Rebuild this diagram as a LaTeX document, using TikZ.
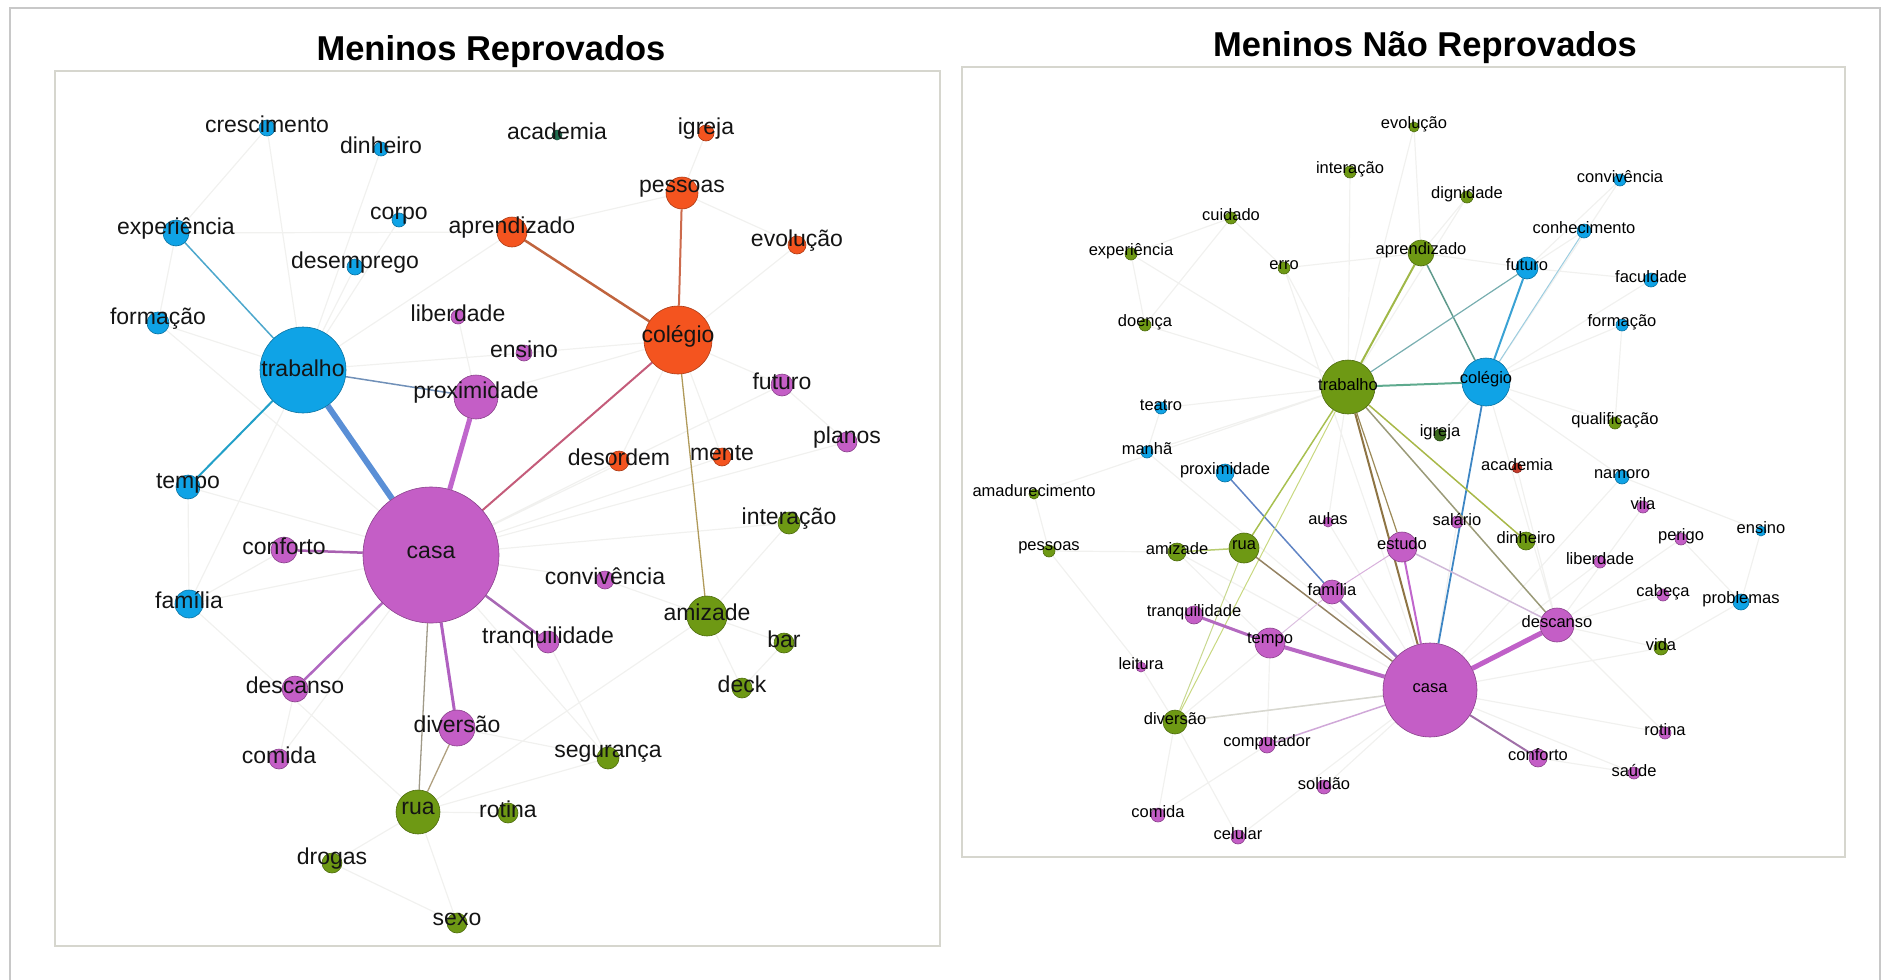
\documentclass[tikz,border=0pt]{standalone}
\usepackage{fontspec}
\setmainfont{Liberation Sans}
\usetikzlibrary{backgrounds}
\definecolor{NetBlue}{HTML}{0FA3E6}
\definecolor{NetOrange}{HTML}{F4541F}
\definecolor{NetPurple}{HTML}{C45EC6}
\definecolor{NetGreen}{HTML}{6E9914}
\definecolor{NetTeal}{HTML}{1E6E50}
\definecolor{NetRed}{HTML}{C43A2A}
\definecolor{NetMoss}{HTML}{3C6B1E}
\definecolor{EdgeFaint}{HTML}{F1F1EF}
\definecolor{FrameGray}{HTML}{D6D6CE}
\definecolor{OuterGray}{HTML}{C8C8C8}

\begin{document}
\begin{tikzpicture}[x=1pt, y=-1pt,
    wnode/.style={circle, inner sep=0pt, line width=0.6pt, fill=#1, draw=#1!70!black},
    ltext/.style={font=\fontsize{23}{27}\selectfont, text=black!92, inner sep=0pt, yshift=4pt},
    rtext/.style={font=\fontsize{16.5}{19}\selectfont, text=black, inner sep=0pt, yshift=3pt},
    faint/.style={EdgeFaint, line width=1.2pt},
    ttl/.style={font=\fontsize{34.5}{40}\selectfont\bfseries, inner sep=0pt}]
    \useasboundingbox (0,0) rectangle (1883,980);

    % Outer border and frames
    \draw[OuterGray, line width=1.5pt] (10,985) -- (10,8) -- (1880,8) -- (1880,985);
    \draw[FrameGray, line width=1.2pt] (55,71) rectangle (940,946);
    \draw[FrameGray, line width=1.2pt] (962,67) rectangle (1845,857);

    % Titles
    \node[ttl] (ttlL) at (491,52) {Meninos Reprovados};
    \node[ttl] (ttlR) at (1425,48) {Meninos Não Reprovados};

    % Left graph
    \node[wnode=NetBlue, minimum size=16pt, label={[ltext]center:crescimento}] (Lcrescimento) at (267,128) {};
    \node[wnode=NetBlue, minimum size=14pt, label={[ltext]center:dinheiro}] (Ldinheiro) at (381,149) {};
    \node[wnode=NetBlue, minimum size=26pt, label={[ltext]center:experiência}] (Lexperiencia) at (176,233) {};
    \node[wnode=NetBlue, minimum size=14pt, label={[ltext]center:corpo}] (Lcorpo) at (399,220) {};
    \node[wnode=NetBlue, minimum size=16pt, label={[ltext]center:desemprego}] (Ldesemprego) at (355,267) {};
    \node[wnode=NetBlue, minimum size=22pt, label={[ltext]center:formação}] (Lformacao) at (158,323) {};
    \node[wnode=NetBlue, minimum size=86pt, label={[ltext, yshift=-2pt]center:trabalho}] (Ltrabalho) at (303,370) {};
    \node[wnode=NetBlue, minimum size=24pt, label={[ltext]center:tempo}] (Ltempo) at (188,487) {};
    \node[wnode=NetBlue, minimum size=28pt, label={[ltext]center:família}] (Lfamilia) at (189,604) {};
    \node[wnode=NetPurple, minimum size=14pt, label={[ltext]center:liberdade}] (Lliberdade) at (458,317) {};
    \node[wnode=NetPurple, minimum size=16pt, label={[ltext]center:ensino}] (Lensino) at (524,353) {};
    \node[wnode=NetPurple, minimum size=44pt, label={[ltext]center:proximidade}] (Lproximidade) at (476,397) {};
    \node[wnode=NetTeal, minimum size=10pt, label={[ltext]center:academia}] (Lacademia) at (557,135) {};
    \node[wnode=NetOrange, minimum size=16pt, label={[ltext]center:igreja}] (Ligreja) at (706,133) {};
    \node[wnode=NetOrange, minimum size=32pt, label={[ltext]center:pessoas}] (Lpessoas) at (682,193) {};
    \node[wnode=NetOrange, minimum size=30pt, label={[ltext]center:aprendizado}] (Laprendizado) at (512,232) {};
    \node[wnode=NetOrange, minimum size=18pt, label={[ltext]center:evolução}] (Levolucao) at (797,245) {};
    \node[wnode=NetOrange, minimum size=68pt, label={[ltext]center:colégio}] (Lcolegio) at (678,340) {};
    \node[wnode=NetPurple, minimum size=22pt, label={[ltext]center:futuro}] (Lfuturo) at (782,385) {};
    \node[wnode=NetPurple, minimum size=20pt, label={[ltext]center:planos}] (Lplanos) at (847,442) {};
    \node[wnode=NetOrange, minimum size=20pt, label={[ltext]center:desordem}] (Ldesordem) at (619,461) {};
    \node[wnode=NetOrange, minimum size=18pt, label={[ltext]center:mente}] (Lmente) at (722,457) {};
    \node[wnode=NetPurple, minimum size=136pt, label={[ltext, yshift=-1pt]center:casa}] (Lcasa) at (431,555) {};
    \node[wnode=NetPurple, minimum size=26pt, label={[ltext]center:conforto}] (Lconforto) at (284,550) {};
    \node[wnode=NetPurple, minimum size=26pt, label={[ltext]center:descanso}] (Ldescanso) at (295,689) {};
    \node[wnode=NetPurple, minimum size=36pt, label={[ltext]center:diversão}] (Ldiversao) at (457,728) {};
    \node[wnode=NetPurple, minimum size=20pt, label={[ltext]center:comida}] (Lcomida) at (279,759) {};
    \node[wnode=NetGreen, minimum size=44pt, label={[ltext]center:rua}] (Lrua) at (418,812) {};
    \node[wnode=NetGreen, minimum size=20pt, label={[ltext]center:drogas}] (Ldrogas) at (332,863) {};
    \node[wnode=NetGreen, minimum size=20pt, label={[ltext]center:sexo}] (Lsexo) at (457,923) {};
    \node[wnode=NetGreen, minimum size=20pt, label={[ltext]center:rotina}] (Lrotina) at (508,813) {};
    \node[wnode=NetPurple, minimum size=22pt, label={[ltext]center:tranquilidade}] (Ltranquilidade) at (548,642) {};
    \node[wnode=NetGreen, minimum size=22pt, label={[ltext]center:interação}] (Linteracao) at (789,523) {};
    \node[wnode=NetPurple, minimum size=18pt, label={[ltext]center:convivência}] (Lconvivencia) at (605,580) {};
    \node[wnode=NetGreen, minimum size=40pt, label={[ltext]center:amizade}] (Lamizade) at (707,616) {};
    \node[wnode=NetGreen, minimum size=20pt, label={[ltext]center:bar}] (Lbar) at (784,643) {};
    \node[wnode=NetGreen, minimum size=20pt, label={[ltext]center:deck}] (Ldeck) at (742,688) {};
    \node[wnode=NetGreen, minimum size=22pt, label={[ltext]center:segurança}] (Lseguranca) at (608,758) {};

    % Right graph
    \node[wnode=NetGreen, minimum size=10pt, label={[rtext]center:evolução}] (Revolucao) at (1414,127) {};
    \node[wnode=NetGreen, minimum size=12pt, label={[rtext]center:interação}] (Rinteracao) at (1350,172) {};
    \node[wnode=NetGreen, minimum size=12pt, label={[rtext]center:dignidade}] (Rdignidade) at (1467,197) {};
    \node[wnode=NetGreen, minimum size=12pt, label={[rtext]center:cuidado}] (Rcuidado) at (1231,218) {};
    \node[wnode=NetBlue, minimum size=12pt, label={[rtext]center:convivência}] (Rconvivencia) at (1620,180) {};
    \node[wnode=NetBlue, minimum size=14pt, label={[rtext]center:conhecimento}] (Rconhecimento) at (1584,231) {};
    \node[wnode=NetGreen, minimum size=12pt, label={[rtext]center:experiência}] (Rexperiencia) at (1131,254) {};
    \node[wnode=NetGreen, minimum size=26pt, label={[rtext]center:aprendizado}] (Raprendizado) at (1421,253) {};
    \node[wnode=NetGreen, minimum size=12pt, label={[rtext]center:erro}] (Rerro) at (1284,268) {};
    \node[wnode=NetBlue, minimum size=22pt, label={[rtext]center:futuro}] (Rfuturo) at (1527,268) {};
    \node[wnode=NetBlue, minimum size=14pt, label={[rtext]center:faculdade}] (Rfaculdade) at (1651,280) {};
    \node[wnode=NetGreen, minimum size=12pt, label={[rtext]center:doença}] (Rdoenca) at (1145,325) {};
    \node[wnode=NetBlue, minimum size=12pt, label={[rtext]center:formação}] (Rformacao) at (1622,325) {};
    \node[wnode=NetGreen, minimum size=54pt, label={[rtext, yshift=-1pt]center:trabalho}] (Rtrabalho) at (1348,387) {};
    \node[wnode=NetBlue, minimum size=48pt, label={[rtext]center:colégio}] (Rcolegio) at (1486,382) {};
    \node[wnode=NetBlue, minimum size=12pt, label={[rtext]center:teatro}] (Rteatro) at (1161,408) {};
    \node[wnode=NetGreen, minimum size=12pt, label={[rtext]center:qualificação}] (Rqualificacao) at (1615,423) {};
    \node[wnode=NetMoss, minimum size=12pt, label={[rtext]center:igreja}] (Rigreja) at (1440,435) {};
    \node[wnode=NetBlue, minimum size=12pt, label={[rtext]center:manhã}] (Rmanha) at (1147,452) {};
    \node[wnode=NetRed, minimum size=10pt, label={[rtext]center:academia}] (Racademia) at (1517,468) {};
    \node[wnode=NetBlue, minimum size=18pt, label={[rtext]center:proximidade}] (Rproximidade) at (1225,473) {};
    \node[wnode=NetBlue, minimum size=14pt, label={[rtext]center:namoro}] (Rnamoro) at (1622,477) {};
    \node[wnode=NetGreen, minimum size=10pt, label={[rtext]center:amadurecimento}] (Ramadurecimento) at (1034,494) {};
    \node[wnode=NetPurple, minimum size=12pt, label={[rtext]center:vila}] (Rvila) at (1643,507) {};
    \node[wnode=NetPurple, minimum size=10pt, label={[rtext]center:aulas}] (Raulas) at (1328,522) {};
    \node[wnode=NetPurple, minimum size=12pt, label={[rtext]center:salário}] (Rsalario) at (1457,522) {};
    \node[wnode=NetBlue, minimum size=10pt, label={[rtext]center:ensino}] (Rensino) at (1761,531) {};
    \node[wnode=NetGreen, minimum size=18pt, label={[rtext]center:dinheiro}] (Rdinheiro) at (1526,541) {};
    \node[wnode=NetPurple, minimum size=12pt, label={[rtext]center:perigo}] (Rperigo) at (1681,539) {};
    \node[wnode=NetGreen, minimum size=12pt, label={[rtext]center:pessoas}] (Rpessoas) at (1049,551) {};
    \node[wnode=NetGreen, minimum size=18pt, label={[rtext]center:amizade}] (Ramizade) at (1177,552) {};
    \node[wnode=NetGreen, minimum size=30pt, label={[rtext]center:rua}] (Rrua) at (1244,548) {};
    \node[wnode=NetPurple, minimum size=30pt, label={[rtext]center:estudo}] (Restudo) at (1402,547) {};
    \node[wnode=NetPurple, minimum size=12pt, label={[rtext]center:liberdade}] (Rliberdade) at (1600,562) {};
    \node[wnode=NetPurple, minimum size=24pt, label={[rtext]center:família}] (Rfamilia) at (1332,592) {};
    \node[wnode=NetPurple, minimum size=12pt, label={[rtext]center:cabeça}] (Rcabeca) at (1663,595) {};
    \node[wnode=NetBlue, minimum size=16pt, label={[rtext]center:problemas}] (Rproblemas) at (1741,602) {};
    \node[wnode=NetPurple, minimum size=18pt, label={[rtext]center:tranquilidade}] (Rtranquilidade) at (1194,615) {};
    \node[wnode=NetPurple, minimum size=34pt, label={[rtext]center:descanso}] (Rdescanso) at (1557,625) {};
    \node[wnode=NetPurple, minimum size=30pt, label={[rtext]center:tempo}] (Rtempo) at (1270,643) {};
    \node[wnode=NetGreen, minimum size=14pt, label={[rtext]center:vida}] (Rvida) at (1661,648) {};
    \node[wnode=NetPurple, minimum size=10pt, label={[rtext]center:leitura}] (Rleitura) at (1141,667) {};
    \node[wnode=NetPurple, minimum size=94pt, label={[rtext, yshift=-1pt]center:casa}] (Rcasa) at (1430,690) {};
    \node[wnode=NetGreen, minimum size=24pt, label={[rtext]center:diversão}] (Rdiversao) at (1175,722) {};
    \node[wnode=NetPurple, minimum size=12pt, label={[rtext]center:rotina}] (Rrotina) at (1665,733) {};
    \node[wnode=NetPurple, minimum size=16pt, label={[rtext]center:computador}] (Rcomputador) at (1267,745) {};
    \node[wnode=NetPurple, minimum size=18pt, label={[rtext]center:conforto}] (Rconforto) at (1538,758) {};
    \node[wnode=NetPurple, minimum size=12pt, label={[rtext]center:saúde}] (Rsaude) at (1634,773) {};
    \node[wnode=NetPurple, minimum size=14pt, label={[rtext]center:solidão}] (Rsolidao) at (1324,787) {};
    \node[wnode=NetPurple, minimum size=14pt, label={[rtext]center:comida}] (Rcomida) at (1158,815) {};
    \node[wnode=NetPurple, minimum size=14pt, label={[rtext]center:celular}] (Rcelular) at (1238,837) {};

    \begin{scope}[on background layer]
    % Left faint links
    \draw[faint] (Lcrescimento) -- (Lexperiencia) (Lcrescimento) -- (Ltrabalho) (Ldinheiro) -- (Ltrabalho)
        (Lcorpo) -- (Ltrabalho) (Ldesemprego) -- (Ltrabalho) (Lexperiencia) -- (Lformacao)
        (Lexperiencia) -- (Laprendizado) (Lformacao) -- (Ltrabalho) (Lformacao) -- (Lcasa)
        (Ltrabalho) -- (Laprendizado) (Ltrabalho) -- (Lensino) (Ltrabalho) -- (Lfamilia)
        (Ltempo) -- (Lfamilia) (Ltempo) -- (Lcasa) (Lfamilia) -- (Lconforto) (Lfamilia) -- (Lcasa)
        (Lfamilia) -- (Lrua) (Ldescanso) -- (Lcomida) (Lcomida) -- (Lcasa) (Lrua) -- (Ldrogas)
        (Lrua) -- (Lsexo) (Ldrogas) -- (Lsexo) (Lrua) -- (Lrotina) (Lrua) -- (Lseguranca)
        (Lrua) -- (Lamizade) (Ltranquilidade) -- (Lseguranca) (Lcasa) -- (Lconvivencia)
        (Lconvivencia) -- (Lamizade) (Lamizade) -- (Linteracao) (Lamizade) -- (Lbar)
        (Lamizade) -- (Ldeck) (Lbar) -- (Ldeck) (Lcasa) -- (Linteracao) (Lcasa) -- (Lplanos)
        (Lcasa) -- (Lfuturo) (Lcolegio) -- (Lfuturo) (Lfuturo) -- (Lplanos) (Lcolegio) -- (Lmente)
        (Lcolegio) -- (Ldesordem) (Lcolegio) -- (Levolucao) (Lcolegio) -- (Lensino)
        (Lpessoas) -- (Laprendizado) (Lpessoas) -- (Ligreja) (Lpessoas) -- (Levolucao)
        (Lliberdade) -- (Lproximidade) (Lproximidade) -- (Lcolegio) (Lcasa) -- (Lmente)
        (Lcasa) -- (Ldesordem) (Ldiversao) -- (Lseguranca) (Lcasa) -- (Lseguranca);
    % Left strong links
    \draw[line width=6pt, color={rgb,255:red,90;green,143;blue,214}] (Ltrabalho) -- (Lcasa);
    \draw[line width=1.5pt, color={rgb,255:red,76;green,167;blue,204}] (Ltrabalho) -- (Lexperiencia);
    \draw[line width=2pt, color={rgb,255:red,34;green,160;blue,200}] (Ltrabalho) -- (Ltempo);
    \draw[line width=1.5pt, color={rgb,255:red,112;green,144;blue,184}] (Ltrabalho) -- (Lproximidade);
    \draw[line width=5pt, color={rgb,255:red,192;green,102;blue,204}] (Lcasa) -- (Lproximidade);
    \draw[line width=2pt, color={rgb,255:red,196;green,92;blue,122}] (Lcasa) -- (Lcolegio);
    \draw[line width=2.5pt, color={rgb,255:red,192;green,100;blue,62}] (Lcolegio) -- (Laprendizado);
    \draw[line width=2pt, color={rgb,255:red,204;green,106;blue,76}] (Lcolegio) -- (Lpessoas);
    \draw[line width=1.3pt, color={rgb,255:red,176;green,154;blue,90}] (Lcolegio) -- (Lamizade);
    \draw[line width=2.5pt, color={rgb,255:red,168;green,96;blue,176}] (Lcasa) -- (Lconforto);
    \draw[line width=2.5pt, color={rgb,255:red,176;green,104;blue,192}] (Lcasa) -- (Ldescanso);
    \draw[line width=2.5pt, color={rgb,255:red,168;green,104;blue,180}] (Lcasa) -- (Ltranquilidade);
    \draw[line width=3pt, color={rgb,255:red,176;green,96;blue,192}] (Lcasa) -- (Ldiversao);
    \draw[line width=1.3pt, color={rgb,255:red,160;green,154;blue,136}] (Lcasa) -- (Lrua);
    \draw[line width=1.3pt, color={rgb,255:red,176;green,160;blue,128}] (Ldiversao) -- (Lrua);

    % Right faint links
    \draw[faint] (Revolucao) -- (Raprendizado) (Revolucao) -- (Rtrabalho) (Rinteracao) -- (Rtrabalho)
        (Rdignidade) -- (Raprendizado) (Rdignidade) -- (Rtrabalho) (Rcuidado) -- (Rexperiencia)
        (Rcuidado) -- (Rdoenca) (Rcuidado) -- (Rerro) (Rexperiencia) -- (Rdoenca)
        (Rexperiencia) -- (Rtrabalho) (Rdoenca) -- (Rtrabalho) (Rerro) -- (Rtrabalho)
        (Rerro) -- (Raprendizado) (Rerro) -- (Rcasa) (Raprendizado) -- (Rfuturo)
        (Rconvivencia) -- (Rfuturo) (Rconvivencia) -- (Rcolegio) (Rconhecimento) -- (Rfuturo)
        (Rfuturo) -- (Rfaculdade) (Rfaculdade) -- (Rcolegio) (Rformacao) -- (Rcolegio)
        (Rformacao) -- (Rqualificacao) (Rqualificacao) -- (Rcolegio) (Rcolegio) -- (Rigreja)
        (Rcolegio) -- (Rnamoro) (Rcolegio) -- (Rdescanso) (Rteatro) -- (Rtrabalho)
        (Rteatro) -- (Rmanha) (Rmanha) -- (Rtrabalho) (Rmanha) -- (Rcasa)
        (Ramadurecimento) -- (Rpessoas) (Ramadurecimento) -- (Rtrabalho) (Rpessoas) -- (Ramizade)
        (Rpessoas) -- (Rleitura) (Ramizade) -- (Rcasa) (Ramizade) -- (Rtempo)
        (Rdiversao) -- (Rcasa) (Rdiversao) -- (Rleitura) (Rdiversao) -- (Rcomida)
        (Rdiversao) -- (Rcelular) (Rtempo) -- (Rdiversao) (Rcomputador) -- (Rcomida)
        (Rsolidao) -- (Rcasa) (Rcelular) -- (Rcasa) (Rdescanso) -- (Rvida)
        (Rdescanso) -- (Rrotina) (Rdescanso) -- (Rcabeca) (Rdescanso) -- (Rperigo)
        (Rcasa) -- (Rrotina) (Rcasa) -- (Rsaude) (Rconforto) -- (Rsaude) (Rcasa) -- (Rvida)
        (Rnamoro) -- (Rcasa) (Rproblemas) -- (Rensino) (Rproblemas) -- (Rperigo)
        (Rproblemas) -- (Rvida) (Rvila) -- (Rdescanso) (Rliberdade) -- (Rcasa)
        (Rsalario) -- (Rcasa) (Raulas) -- (Rcasa) (Racademia) -- (Rdescanso)
        (Rnamoro) -- (Rensino) (Rcomputador) -- (Rtempo) (Raulas) -- (Rtrabalho);
    % Right strong links
    \draw[line width=2pt, color={rgb,255:red,160;green,184;blue,72}] (Rtrabalho) -- (Raprendizado);
    \draw[line width=2pt, color={rgb,255:red,94;green,170;blue,142}] (Rtrabalho) -- (Rcolegio);
    \draw[line width=1.5pt, color={rgb,255:red,95;green,154;blue,140}] (Raprendizado) -- (Rcolegio);
    \draw[line width=1.2pt, color={rgb,255:red,120;green,174;blue,176}] (Rtrabalho) -- (Rfuturo);
    \draw[line width=2pt, color={rgb,255:red,58;green,162;blue,212}] (Rcolegio) -- (Rfuturo);
    \draw[line width=1pt, color={rgb,255:red,156;green,205;blue,224}] (Rcolegio) -- (Rconhecimento);
    \draw[line width=1.8pt, color={rgb,255:red,61;green,134;blue,196}] (Rcolegio) -- (Rcasa);
    \draw[line width=1.5pt, color={rgb,255:red,96;green,132;blue,196}] (Rproximidade) -- (Rfamilia);
    \draw[line width=1.5pt, color={rgb,255:red,168;green,192;blue,80}] (Rtrabalho) -- (Rrua);
    \draw[line width=1pt, color={rgb,255:red,200;green,216;blue,128}] (Rtrabalho) -- (Rdiversao);
    \draw[line width=2pt, color={rgb,255:red,142;green,116;blue,68}] (Rtrabalho) -- (Rcasa);
    \draw[line width=1.2pt, color={rgb,255:red,156;green,138;blue,88}] (Rtrabalho) -- (Restudo);
    \draw[line width=1.5pt, color={rgb,255:red,168;green,184;blue,72}] (Rtrabalho) -- (Rdinheiro);
    \draw[line width=1.5pt, color={rgb,255:red,154;green,154;blue,120}] (Rtrabalho) -- (Rdescanso);
    \draw[line width=1.5pt, color={rgb,255:red,148;green,130;blue,98}] (Rrua) -- (Rcasa);
    \draw[line width=1.5pt, color={rgb,255:red,184;green,204;blue,112}] (Rrua) -- (Ramizade);
    \draw[line width=1pt, color={rgb,255:red,200;green,216;blue,144}] (Rrua) -- (Rdiversao);
    \draw[line width=4pt, color={rgb,255:red,184;green,104;blue,196}] (Rcasa) -- (Rtempo);
    \draw[line width=3pt, color={rgb,255:red,180;green,106;blue,192}] (Rtempo) -- (Rtranquilidade);
    \draw[line width=3pt, color={rgb,255:red,154;green,112;blue,200}] (Rcasa) -- (Rfamilia);
    \draw[line width=2pt, color={rgb,255:red,192;green,102;blue,204}] (Rcasa) -- (Restudo);
    \draw[line width=5pt, color={rgb,255:red,192;green,96;blue,200}] (Rcasa) -- (Rdescanso);
    \draw[line width=2pt, color={rgb,255:red,160;green,112;blue,168}] (Rcasa) -- (Rconforto);
    \draw[line width=1.5pt, color={rgb,255:red,208;green,168;blue,216}] (Rcasa) -- (Rcomputador);
    \draw[line width=1.5pt, color={rgb,255:red,216;green,216;blue,208}] (Rcasa) -- (Rdiversao);
    \draw[line width=1pt, color={rgb,255:red,216;green,176;blue,220}] (Restudo) -- (Rfamilia);
    \draw[line width=1.5pt, color={rgb,255:red,208;green,184;blue,216}] (Restudo) -- (Rdescanso);
    \draw[line width=1pt, color={rgb,255:red,220;green,192;blue,224}] (Rtempo) -- (Rfamilia);
    \end{scope}
\end{tikzpicture}
\end{document}
